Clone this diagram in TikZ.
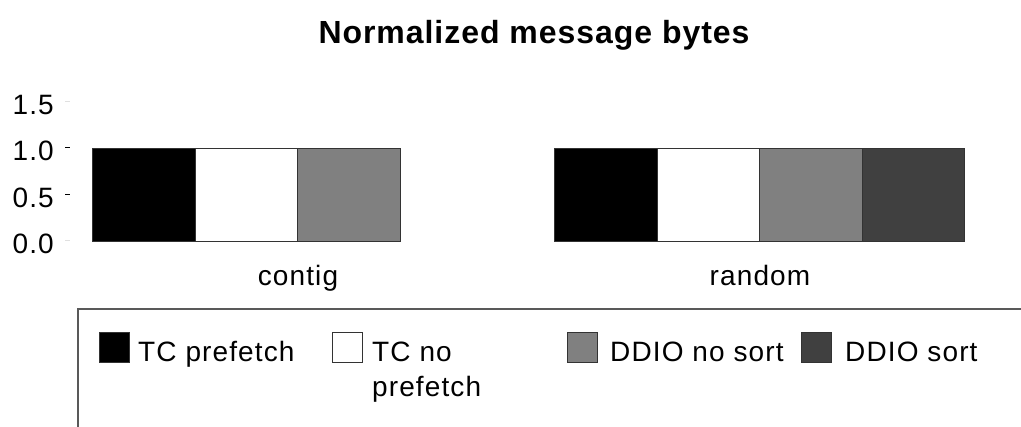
\documentclass[tikz,border=0pt]{standalone}
\usepackage{fontspec}
\setmainfont{Liberation Sans}[LetterSpace=4]
\newfontfamily\titlefont{Liberation Sans}[LetterSpace=3]
\begin{document}
\begin{tikzpicture}[x=1pt,y=-1pt,
  lbl/.style={font=\fontsize{28}{35}\selectfont, inner sep=0pt},
  bar/.style={draw=black!80, line width=1pt, minimum width=102.5pt, minimum height=93pt, inner sep=0pt, anchor=north west},
  swatch/.style={draw=black!80, line width=1pt, minimum width=30pt, minimum height=30pt, inner sep=0pt, anchor=north west},
  tick/.style={line width=1pt}]
\useasboundingbox (0,0) rectangle (1021,427);
% title
\node[inner sep=0pt, anchor=base, font=\titlefont\bfseries\fontsize{32}{38}\selectfont] (title) at (534,44) {Normalized message bytes};
% y axis labels and ticks
\foreach \v/\yy/\c in {1.5/101.5/black!12, 1.0/148/black, 0.5/194.5/black, 0.0/241/black!12} {
  \node[lbl, anchor=base east] (lab\v) at (54,\yy+13) {\v};
  \draw[tick, \c] (65,\yy) -- (70,\yy);
}
% contig bars
\node[bar, fill=black] (c1) at (92,148) {};
\node[bar, fill=white] (c2) at (194.5,148) {};
\node[bar, fill=black!50] (c3) at (297,148) {};
% random bars
\node[bar, fill=black] (r1) at (554,148) {};
\node[bar, fill=white] (r2) at (656.5,148) {};
\node[bar, fill=black!50] (r3) at (759,148) {};
\node[bar, fill=black!75] (r4) at (861.5,148) {};
% category labels
\node[lbl, anchor=base] (contig) at (298,286) {contig};
\node[lbl, anchor=base] (random) at (760,286) {random};
% legend frame
\draw[black!65, line width=1.5pt] (1021,309) -- (78,309) -- (78,427);
% legend entries
\node[swatch, fill=black] (s1) at (98.5,332) {};
\node[lbl, anchor=base west] (t1) at (138,362) {TC prefetch};
\node[swatch, fill=white] (s2) at (332,332) {};
\node[lbl, anchor=base west] (t2) at (372,362) {TC no};
\node[lbl, anchor=base west] (t2b) at (372,397) {prefetch};
\node[swatch, fill=black!50] (s3) at (566.5,332) {};
\node[lbl, anchor=base west] (t3) at (610,362) {DDIO no sort};
\node[swatch, fill=black!75] (s4) at (800.5,332) {};
\node[lbl, anchor=base west] (t4) at (845,362) {DDIO sort};
\end{tikzpicture}
\end{document}
